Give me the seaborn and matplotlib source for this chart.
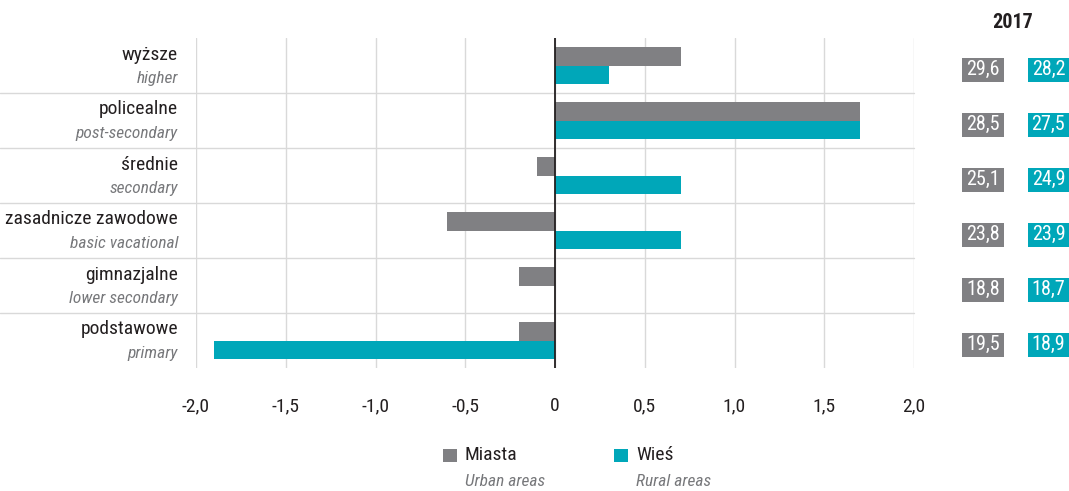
import numpy as np
import pandas as pd
import seaborn as sns
import matplotlib
matplotlib.use("Agg")
import matplotlib.pyplot as plt
from matplotlib import font_manager as fm
from matplotlib.patches import Rectangle
import matplotlib.transforms as mtrans

# ---- data ----
categories_pl = ["wyższe", "policealne", "średnie", "zasadnicze zawodowe", "gimnazjalne", "podstawowe"]
categories_en = ["higher", "post-secondary", "secondary", "basic vacational", "lower secondary", "primary"]
series_names = ["Miasta", "Wieś"]
series_en = ["Urban areas", "Rural areas"]
miasta = [0.7, 1.7, -0.1, -0.6, -0.2, -0.2]
wies = [0.3, 1.7, 0.7, 0.7, 0.0, -1.9]
miasta_2017 = ["29,6", "28,5", "25,1", "23,8", "18,8", "19,5"]
wies_2017 = ["28,2", "27,5", "24,9", "23,9", "18,7", "18,9"]
year_label = "2017"
x_ticks = [-2.0, -1.5, -1.0, -0.5, 0.0, 0.5, 1.0, 1.5, 2.0]
x_ticklabels = ["-2,0", "-1,5", "-1,0", "-0,5", "0", "0,5", "1,0", "1,5", "2,0"]

GREY = "#808083"
TEAL = "#00A7B9"
TXT = "#231f20"
SUB = "#77787b"
colors = [GREY, TEAL]

sns.set_style("white")
names = {f.name for f in fm.fontManager.ttflist}
pref = ["Roboto Condensed", "PT Sans Narrow", "Open Sans Condensed", "Liberation Sans Narrow"]
chosen = [p for p in pref if p in names]
FAM = chosen[:1] + ["DejaVu Sans"]
plt.rcParams["font.family"] = FAM

df = pd.DataFrame({
    "kat": categories_pl * 2,
    "seria": [series_names[0]] * len(miasta) + [series_names[1]] * len(wies),
    "val": miasta + wies,
})

W, H = 1069, 491
fig = plt.figure(figsize=(W / 100, H / 100), dpi=100)
ax = fig.add_axes([196 / W, 1 - 368 / H, (914 - 196) / W, (368 - 38) / H])

sns.barplot(data=df, y="kat", x="val", hue="seria", order=categories_pl,
            hue_order=series_names, palette=colors, orient="h", width=0.66,
            saturation=1, ax=ax, legend=False, edgecolor="none", linewidth=0)

ax.set_xlim(-2.0, 2.0)
ax.set_ylim(len(categories_pl) - 0.5, -0.5)
ax.set_xticks(x_ticks)
ax.set_xticklabels(x_ticklabels, fontsize=14, color=TXT)
ax.tick_params(axis="x", length=0, pad=21)
ax.set_yticks([])
ax.set_xlabel("")
ax.set_ylabel("")
for s in ax.spines.values():
    s.set_visible(False)

for xt in x_ticks:
    ax.axvline(xt, color="#d9d9d9", lw=1.0, zorder=0)
ax.axvline(0, color=TXT, lw=1.3, zorder=3)

# horizontal separators across label area
sep_tr = mtrans.blended_transform_factory(fig.transFigure, ax.transData)
for i in range(len(categories_pl) - 1):
    ax.add_line(plt.Line2D([0, 914 / W], [i + 0.5, i + 0.5], transform=sep_tr,
                           color="#d9d9d9", lw=1.0, clip_on=False, zorder=0))

# category labels
for i, (pl, en) in enumerate(zip(categories_pl, categories_en)):
    ax.text(178 / W, i - 0.2, pl, transform=sep_tr, ha="right", va="center",
            fontsize=14, color=TXT)
    ax.text(178 / W, i + 0.23, en, transform=sep_tr, ha="right", va="center",
            fontsize=12.5, color=SUB, style="italic")

# 2017 value boxes
for i, (m, w) in enumerate(zip(miasta_2017, wies_2017)):
    for x0, x1, txt, c in [(962, 1004, m, GREY), (1028, 1069, w, TEAL)]:
        rect = Rectangle((x0 / W, i + 0.08 - 0.22), (x1 - x0) / W, 0.44,
                         transform=sep_tr, facecolor=c, edgecolor="none",
                         clip_on=False, zorder=5)
        ax.add_patch(rect)
        ax.text((x0 + x1) / 2 / W, i + 0.08, txt, transform=sep_tr, ha="center",
                va="center", fontsize=14.5, color="white", clip_on=False, zorder=6)
fig.text(1013 / W, 1 - 22 / H, year_label, ha="center", va="center",
         fontsize=14.5, fontweight="bold", color=TXT)

# legend
for (sx, name, en, c) in [(443, series_names[0], series_en[0], GREY),
                          (614, series_names[1], series_en[1], TEAL)]:
    fig.add_artist(Rectangle((sx / W, 1 - 462 / H), 14 / W, 13 / H,
                             transform=fig.transFigure, facecolor=c, edgecolor="none"))
    fig.text((sx + 22) / W, 1 - 455 / H, name, ha="left", va="center",
             fontsize=14, color=TXT)
    fig.text((sx + 22) / W, 1 - 482 / H, en, ha="left", va="center",
             fontsize=12.5, color=SUB, style="italic")

fig.savefig("out.png", dpi=100)
